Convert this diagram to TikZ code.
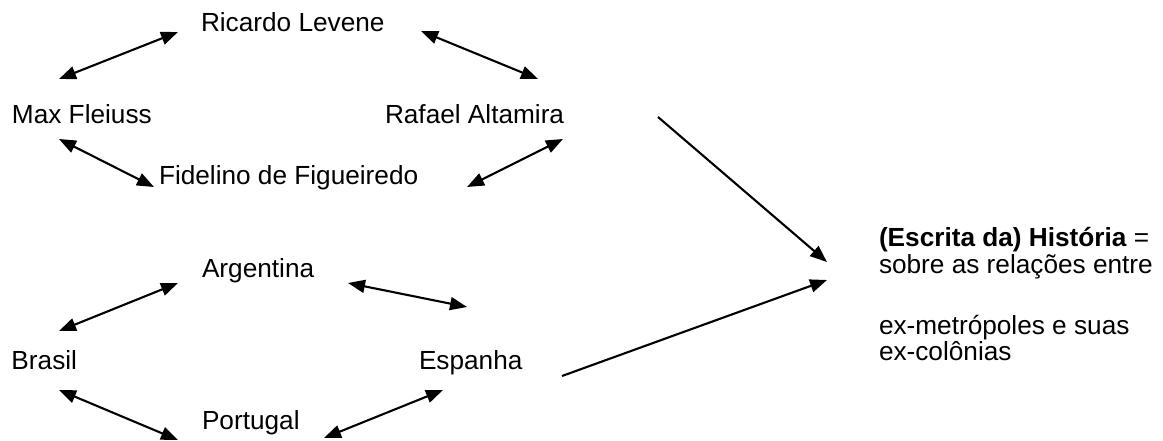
\documentclass[tikz,border=0pt]{standalone}
\usepackage{fontspec}
\setmainfont{Liberation Sans}
\usetikzlibrary{arrows.meta}
\begin{document}
\begin{tikzpicture}[x=1pt,y=-1pt,
  lbl/.style={anchor=base west,inner sep=0pt,outer sep=0pt,font=\fontsize{26.2}{30}\selectfont},
  link/.style={line width=2.1pt,{Triangle[length=17pt,width=13pt]}-{Triangle[length=17pt,width=13pt]}},
  oneway/.style={line width=2.1pt,-{Triangle[length=17pt,width=13pt]}}]
\useasboundingbox (0,0) rectangle (1163,441);
\clip (0,0) rectangle (1163,441);
% nodes
\node[lbl] (ricardo) at (201,32) {Ricardo Levene};
\node[lbl] (max) at (12,124) {Max Fleiuss};
\node[lbl] (rafael) at (385,124) {Rafael Altamira};
\node[lbl] (fidelino) at (159,185) {Fidelino de Figueiredo};
\node[lbl] (argentina) at (202,277) {Argentina};
\node[lbl] (brasil) at (11.5,369) {Brasil};
\node[lbl] (espanha) at (419,369) {Espanha};
\node[lbl] (portugal) at (202,429) {Portugal};
\node[lbl] (r1) at (879,247) {\textbf{(Escrita da) História} =};
\node[lbl] (r2) at (879,273) {sobre as relações entre};
\node[lbl] (r3) at (879,334) {ex-metrópoles e suas};
\node[lbl] (r4) at (879,360) {ex-colônias};
% arrow ends
\coordinate (mr1) at (59,79);   \coordinate (mr2) at (178,32);
\coordinate (rr1) at (421,31);  \coordinate (rr2) at (538,79);
\coordinate (mf1) at (59,139);  \coordinate (mf2) at (154,187);
\coordinate (rf1) at (563,139); \coordinate (rf2) at (467,187);
\coordinate (ba1) at (59,331);  \coordinate (ba2) at (178,283);
\coordinate (ae1) at (348,283); \coordinate (ae2) at (467,307);
\coordinate (bp1) at (59,390);  \coordinate (bp2) at (178,440);
\coordinate (pe1) at (324,438); \coordinate (pe2) at (443,390);
\coordinate (top1) at (658,117); \coordinate (top2) at (827,262);
\coordinate (low1) at (562,376); \coordinate (low2) at (827,280);
% connectors
\draw[link] (mr1) -- (mr2);
\draw[link] (rr1) -- (rr2);
\draw[link] (mf1) -- (mf2);
\draw[link] (rf1) -- (rf2);
\draw[link] (ba1) -- (ba2);
\draw[link] (ae1) -- (ae2);
\draw[link] (bp1) -- (bp2);
\draw[link] (pe1) -- (pe2);
\draw[oneway] (top1) -- (top2);
\draw[oneway] (low1) -- (low2);
\end{tikzpicture}
\end{document}
